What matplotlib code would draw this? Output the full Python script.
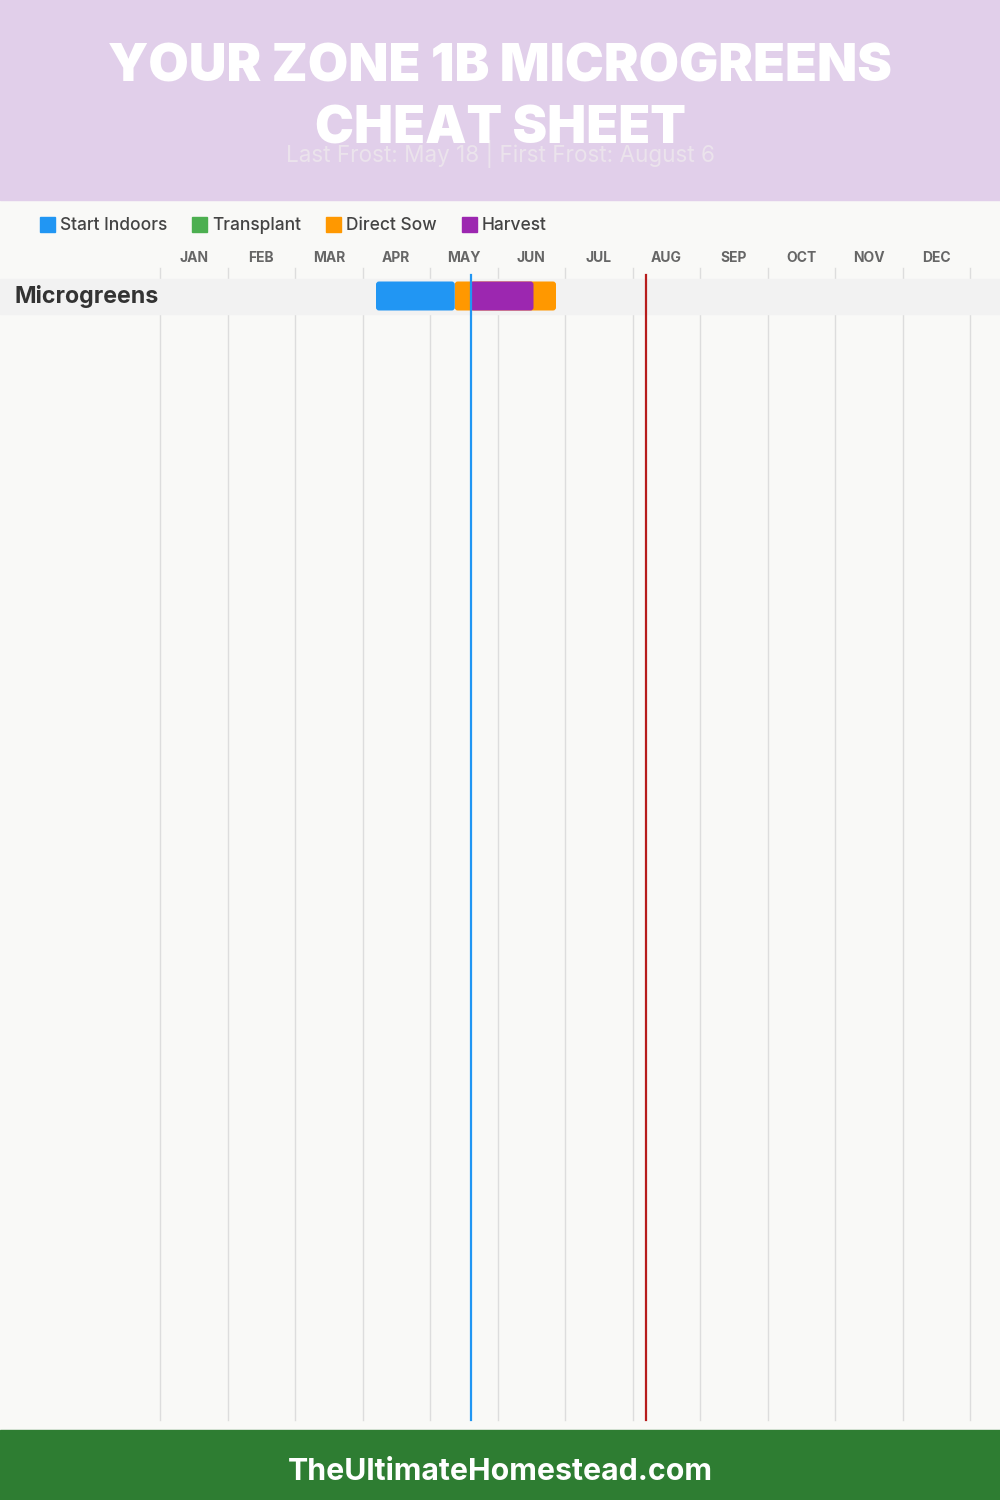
import matplotlib.pyplot as plt
from matplotlib.patches import Rectangle, FancyBboxPatch

# chart data
months = ['JAN', 'FEB', 'MAR', 'APR', 'MAY', 'JUN', 'JUL', 'AUG', 'SEP', 'OCT', 'NOV', 'DEC']
crops = ['Microgreens']
phase_names = ['Start Indoors', 'Transplant', 'Direct Sow', 'Harvest']
phase_colors = ['#2196f3', '#4caf50', '#ff9800', '#9c27b0']
# (month number, day) start/end per phase for the crop; None = no window
start_indoors = [((4, 6), (5, 11))]
transplant = [None]
direct_sow = [((5, 11), (6, 26))]
harvest = [((5, 18), (6, 16))]
last_frost = (5, 18)
first_frost = (8, 6)

W, H = 1000, 1500
X0, MW = 160, 67.5  # left edge of JAN column and month width, px


def mpos(md):
    return md[0] - 1 + md[1] / 30.0


fig = plt.figure(figsize=(10, 15), dpi=100)
ax = fig.add_axes([0, 0, 1, 1])
ax.set_xlim(-X0 / MW, (W - X0) / MW)
ax.set_ylim(H, 0)
ax.axis('off')
fig.patch.set_facecolor('#f9f9f7')

font = ['Inter', 'DejaVu Sans']
yt = ax.get_yaxis_transform()  # x in axes fraction, y in pixels

# header
ax.add_patch(Rectangle((0, 1 - 200 / H), 1, 200 / H, transform=ax.transAxes, color='#e1cfea', zorder=1))
ax.text(0.5, 82, 'YOUR ZONE 1B MICROGREENS', transform=yt, ha='center', va='baseline',
        color='white', fontsize=37.5, fontweight='black', family=font, zorder=3)
ax.text(0.5, 144, 'CHEAT SHEET', transform=yt, ha='center', va='baseline',
        color='white', fontsize=37.5, fontweight='black', family=font, zorder=3)
ax.text(0.5, 162, f'Last Frost: May {last_frost[1]} | First Frost: August {first_frost[1]}',
        transform=yt, ha='center', va='baseline',
        color='#ebe3ec', fontsize=16.2, family=font, zorder=2)

# footer
ax.add_patch(Rectangle((0, 0), 1, 70 / H, transform=ax.transAxes, color='#2e7d32', zorder=1))
ax.text(0.5, 1472, 'TheUltimateHomestead.com', transform=yt, ha='center', va='center',
        color='white', fontsize=21.8, fontweight='bold', family=font, zorder=3)

# legend
lx = 40
for name, col in zip(phase_names, phase_colors):
    x = (lx - X0) / MW
    ax.add_patch(Rectangle((x, 217), 15 / MW, 15, color=col, zorder=3))
    t = ax.text((lx + 20 - X0) / MW, 225, name, ha='left', va='center', fontsize=12.5,
                fontweight='medium', color='#444444', family=font, zorder=3)
    fig.canvas.draw()
    bb = t.get_window_extent()
    lx = bb.x1 + 25

# month labels and grid
for i, m in enumerate(months):
    ax.text(i + 0.5, 258.5, m, ha='center', va='center', fontsize=10, fontweight='bold',
            color='#666666', family=font, zorder=3)
for i in range(13):
    ax.plot([i, i], [268, 1420], color='#dddddd', lw=1, zorder=1)

# crop rows
row_h = 35
for r, crop in enumerate(crops):
    yc = 296 + r * row_h
    ax.add_patch(Rectangle((0, yc - row_h / 2), 1, row_h, transform=yt,
                           color='#f2f2f2', zorder=1.5))
    ax.text((15 - X0) / MW, yc + 1, crop, ha='left', va='center', fontsize=16.7, fontweight='bold',
            color='#333333', family=font, zorder=3)
    for k, series in enumerate([start_indoors, transplant, direct_sow, harvest]):
        span = series[r]
        if span is None:
            continue
        a, b = mpos(span[0]), mpos(span[1])
        z = {0: 3.2, 1: 3.1, 2: 3.0, 3: 3.3}[k]
        ax.add_patch(FancyBboxPatch((a, yc - 14.5), b - a, 29,
                                    boxstyle=f'round,pad=0,rounding_size={3 / MW}',
                                    mutation_aspect=MW, color=phase_colors[k], lw=0, zorder=z))

# frost lines
ax.plot([mpos(last_frost)] * 2, [275, 1420], color='#2196f3', lw=1.6, zorder=4)
ax.plot([mpos(first_frost)] * 2, [275, 1420], color='#b71c1c', lw=1.6, zorder=4)

fig.savefig('out.png', dpi=100, facecolor=fig.get_facecolor())
